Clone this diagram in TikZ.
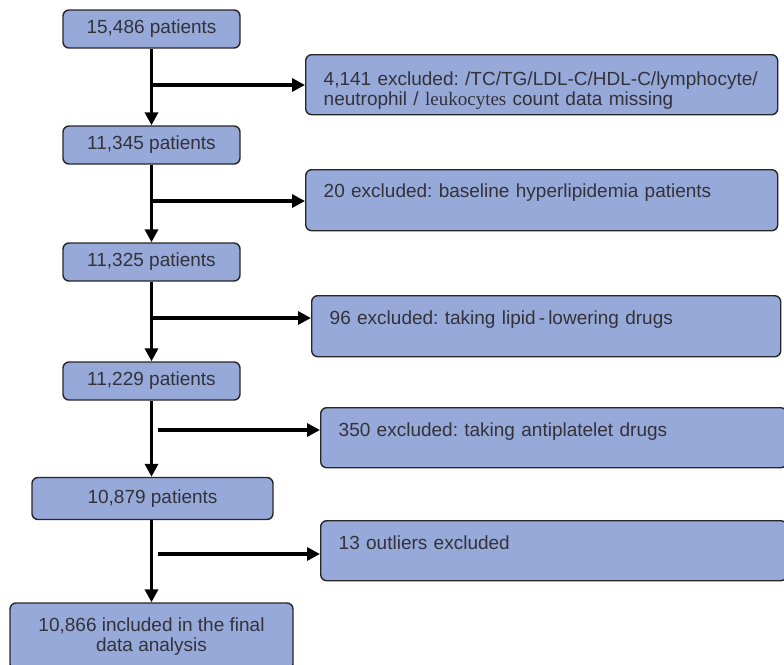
\documentclass[tikz,border=0pt]{standalone}
\usepackage{fontspec}
\setmainfont{Liberation Sans}
\newfontfamily\serifpart{Liberation Serif}
\usepackage{xcolor}
\usepackage{tikz}
\usetikzlibrary{arrows.meta,calc}
\frenchspacing

\definecolor{boxblue}{RGB}{151,169,216}
\definecolor{boxtext}{RGB}{50,50,58}

\begin{document}
\begin{tikzpicture}[x=1pt, y=-1pt,
    every node/.style={font=\fontsize{19}{20}\selectfont, text=boxtext},
    stage/.style={draw=black!85, line width=1.4pt, rounded corners=6pt, fill=boxblue, inner sep=0pt},
    drop/.style={stage, anchor=north west, inner xsep=18pt, inner ysep=0pt, align=left},
    flow/.style={line width=3.5pt, -{Triangle[length=13pt,width=13pt]}}]
    \useasboundingbox (0,0) rectangle (784,664);
    %
    \node[stage, minimum width=177pt, minimum height=38pt] (p1) at (151.5,29) {15,486 patients};
    \node[stage, minimum width=177pt, minimum height=38pt] (p2) at (151.5,145) {11,345 patients};
    \node[stage, minimum width=177pt, minimum height=38pt] (p3) at (151.5,262) {11,325 patients};
    \node[stage, minimum width=177pt, minimum height=38pt] (p4) at (151.5,381) {11,229 patients};
    \node[stage, minimum width=241pt, minimum height=42pt] (p5) at (152.5,498.5) {10,879 patients};
    \node[stage, minimum width=283pt, minimum height=67pt, align=center] (p6) at (151.5,636.5) {10,866 included in the final\\data analysis};
    %
    \node[drop, text width=436pt, text height=31pt, text depth=29pt] (e1) at (305,54)
        {\mbox{4,141 excluded: /TC/TG/LDL-C/HDL-C/lymphocyte/}\\neutrophil / {\serifpart leukocytes} count data missing};
    \node[drop, text width=436pt, text height=28pt, text depth=33pt] (e2) at (305,169)
        {20 excluded: baseline hyperlipidemia patients};
    \node[drop, text width=433pt, text height=29pt, text depth=32pt] (e3) at (311,295)
        {96 excluded: taking lipid\,-\,lowering drugs};
    \node[drop, text width=430pt, text height=29pt, text depth=31pt] (e4) at (320,407)
        {350 excluded: taking antiplatelet drugs};
    \node[drop, text width=430pt, text height=29pt, text depth=31pt] (e5) at (320,520)
        {13 outliers excluded};
    %
    \coordinate (s1) at (152,85);
    \coordinate (s2) at (152,201);
    \coordinate (s3) at (152,318);
    \coordinate (s4) at (158,430);
    \coordinate (s5) at (158,554);
    %
    \draw[flow] (p1) -- (p2);
    \draw[flow] (p2) -- (p3);
    \draw[flow] (p3) -- (p4);
    \draw[flow] (p4.south -| p1) -- (p5.north -| p1);
    \draw[flow] (p5.south -| p1) -- (p6.north -| p1);
    %
    \draw[flow] (s1) -- (s1 -| e1.west);
    \draw[flow] (s2) -- (s2 -| e2.west);
    \draw[flow] (s3) -- (s3 -| e3.west);
    \draw[flow] (s4) -- (s4 -| e4.west);
    \draw[flow] (s5) -- (s5 -| e5.west);
\end{tikzpicture}
\end{document}
